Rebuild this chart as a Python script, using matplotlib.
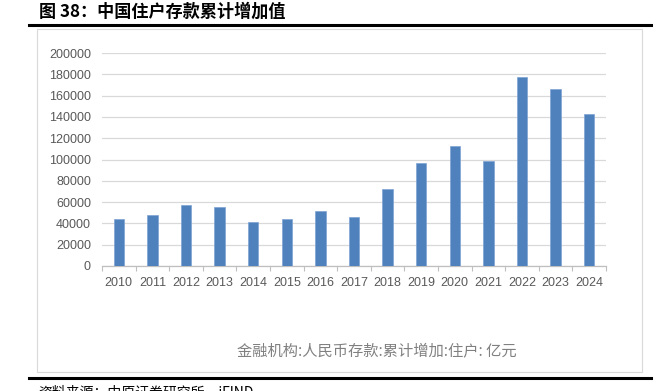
import matplotlib.pyplot as plt
import numpy as np
from matplotlib.patches import Rectangle
from matplotlib.lines import Line2D

plt.rcParams['font.family'] = ['Liberation Sans', 'Noto Sans CJK SC', 'DejaVu Sans']

years = ['2010', '2011', '2012', '2013', '2014', '2015', '2016', '2017',
         '2018', '2019', '2020', '2021', '2022', '2023', '2024']
deposits = [44100, 47900, 57300, 55100, 41600, 44100, 51900, 46300,
            72300, 97000, 113000, 98900, 177800, 166200, 142400]
yticks = list(range(0, 200001, 20000))

title = '图 38：中国住户存款累计增加值'
series_note = '金融机构:人民币存款:累计增加:住户: 亿元'
source = '资料来源：中原证券研究所，iFIND'

fig = plt.figure(figsize=(6.58, 3.91), dpi=100)

# outer frame lines and chart box
fig.add_artist(Line2D([29/658, 651/658], [1-25/391, 1-25/391], color='black', lw=2.2))
fig.add_artist(Line2D([29/658, 651/658], [1-378/391, 1-378/391], color='black', lw=2.2))
fig.add_artist(Rectangle((37/658, 1-372/391), (642-37)/658, (372-29)/391,
                         fill=False, edgecolor='#d9d9d9', lw=0.8))

fig.text(39/658, 1-12/391, title, fontsize=12.3, fontweight='bold',
         family=['Noto Sans CJK SC'], va='center', ha='left')

ax = fig.add_axes([102/658, 1-266/391, (606-102)/658, (266-53)/391])
x = np.arange(len(years))
ax.bar(x, deposits, width=0.31, color='#4f81bd', edgecolor='#7ea3d4', linewidth=0.5, zorder=3)

ax.set_ylim(0, 200000)
ax.set_xlim(-0.5, len(years) - 0.5)
ax.set_yticks(yticks)
ax.set_yticklabels([str(v) for v in yticks])
ax.set_xticks(x)
ax.set_xticklabels(years)
ax.set_xticks(np.arange(-0.5, len(years)), minor=True)
ax.grid(axis='y', color='#d9d9d9', lw=0.9, zorder=0)
ax.tick_params(axis='y', length=0, pad=8, labelsize=9, labelcolor='#595959')
ax.tick_params(axis='x', which='major', length=0, pad=8, labelsize=9, labelcolor='#595959')
ax.tick_params(axis='x', which='minor', length=3.5, color='#bfbfbf', width=0.8)
for side in ['top', 'right', 'left']:
    ax.spines[side].set_visible(False)
ax.spines['bottom'].set_color('#bfbfbf')
ax.spines['bottom'].set_linewidth(0.9)

fig.text(377/658, 1-351/391, series_note, fontsize=11, color='#808080',
         family=['Noto Sans CJK SC'], ha='center', va='center')
fig.text(38/658, 1-385/391, source, fontsize=10, color='black',
         family=['Noto Sans CJK SC', 'DejaVu Sans'], ha='left', va='top')

fig.savefig('out.png', dpi=100)
